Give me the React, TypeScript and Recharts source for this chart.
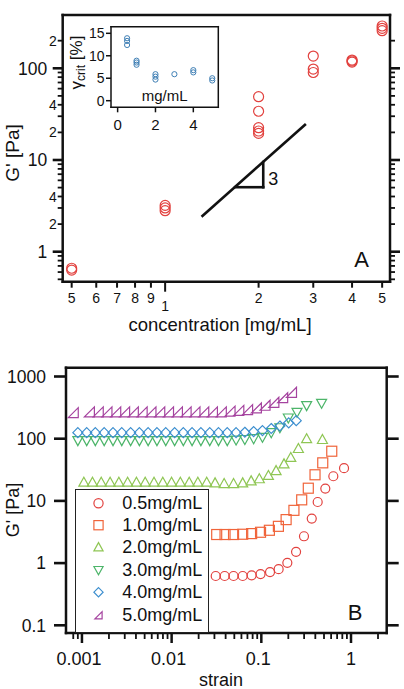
import { ScatterChart, Scatter, XAxis, YAxis, ReferenceLine, Legend } from "recharts";

const FONT = "'Liberation Sans', Arial, Helvetica, sans-serif";
const INK = "#111";

// ---- panel A: G' against concentration ----
const concA = [0.5, 0.5, 1, 1, 1, 2, 2, 2, 2, 2, 3, 3, 3, 4, 4, 4, 5, 5, 5];
const modulusA = [0.66, 0.63, 3.2, 3.0, 2.8, 49, 34, 22.5, 20.7, 19.5, 136, 98, 90, 123, 120, 117, 289, 273, 257];

// inset: critical strain
const concInset = [0.5, 0.5, 0.5, 1, 1, 1, 2, 2, 2, 3, 4, 4, 5, 5];
const gammaCrit = [13.9, 13.3, 12.4, 8.9, 8.5, 8.0, 5.9, 5.35, 4.7, 5.9, 6.8, 6.3, 5.0, 4.5];

// slope 3 guide and triangle (data coords)
const guideConc = [1.31, 2.84];
const guideG = [2.41, 24.7];
const triConc = [1.68, 2.07];
const triG = [5.05, 9.5];

// ---- panel B: strain sweeps ----
const strain05 = [0.031, 0.039, 0.049, 0.062, 0.078, 0.098, 0.125, 0.156, 0.195, 0.244, 0.299, 0.365, 0.425, 0.517, 0.635, 0.836];
const g05 = [0.62, 0.62, 0.62, 0.62, 0.635, 0.667, 0.718, 0.8, 1.01, 1.52, 2.7, 5.2, 9.6, 15.8, 24.9, 33.6];

const strain10 = [0.0318, 0.0394, 0.049, 0.062, 0.078, 0.098, 0.123, 0.155, 0.189, 0.231, 0.282, 0.334, 0.397, 0.484, 0.61];
const g10 = [2.88, 2.88, 2.88, 2.91, 2.98, 3.13, 3.37, 3.9, 5.0, 7.05, 10.4, 16.0, 26.3, 40.9, 62.9];

const strain20 = [0.00105, 0.00131, 0.00164, 0.00206, 0.00258, 0.00323, 0.00405, 0.00507, 0.00636, 0.00797, 0.00998, 0.0125, 0.0157, 0.0196,
  0.0246, 0.0305, 0.0385, 0.049, 0.062, 0.077, 0.095, 0.12, 0.146, 0.179, 0.213, 0.259, 0.32, 0.48];
const g20 = [20, 20, 20, 20, 20, 20, 20, 20, 20, 20, 20, 20, 20, 20,
  20, 19.5, 19, 19, 19.5, 21, 22.7, 25.7, 30.7, 39.4, 50, 69.6, 100, 97];

const strain30 = [0.0009, 0.00113, 0.00141, 0.00177, 0.00222, 0.00278, 0.00349, 0.00437, 0.00547, 0.00686, 0.0086, 0.0108, 0.0135, 0.0169,
  0.0212, 0.0266, 0.0333, 0.0417, 0.0523, 0.0655, 0.0821, 0.103, 0.129, 0.161, 0.2, 0.25, 0.32, 0.47];
const g30 = [93, 93, 93, 93, 93, 93, 93, 93, 93, 93, 93, 93, 93, 93,
  93, 93, 93, 93, 95, 97, 100, 105, 125, 150, 215, 265, 340, 370];

const strain40 = [0.0009, 0.00113, 0.00141, 0.00177, 0.00222, 0.00278, 0.00349, 0.00437, 0.00547, 0.00686, 0.0086, 0.0108, 0.0135, 0.0169,
  0.0212, 0.0266, 0.0333, 0.0417, 0.0523, 0.0655, 0.0821, 0.103, 0.129, 0.161, 0.202, 0.245];
const g40 = [125, 125, 125, 125, 125, 125, 125, 125, 125, 125, 125, 125, 125, 125,
  125, 125, 125, 125, 125, 127, 130, 135, 146, 160, 180, 195];

const strain50 = [0.0008, 0.00121, 0.00152, 0.0019, 0.00238, 0.00299, 0.00374, 0.00469, 0.00588, 0.00737, 0.00923, 0.0116, 0.0145,
  0.0182, 0.0228, 0.0285, 0.0358, 0.0448, 0.0561, 0.0703, 0.0881, 0.11, 0.138, 0.173, 0.217];
const g50 = [262, 270, 270, 270, 270, 270, 270, 270, 270, 270, 270, 270, 270,
  270, 270, 270, 270, 278, 285, 293, 312, 345, 385, 456, 557];

const sweepNames = ["0.5mg/mL", "1.0mg/mL", "2.0mg/mL", "3.0mg/mL", "4.0mg/mL", "5.0mg/mL"];
const sweepColors = ["#e2423f", "#f0643a", "#8fc654", "#4db56a", "#3d8fcf", "#a5439f"];
const sweepKinds = ["circle", "square", "up", "down", "diamond", "wedge"];
const sweepStrains = [strain05, strain10, strain20, strain30, strain40, strain50];
const sweepModuli = [g05, g10, g20, g30, g40, g50];

// ---- ticks ----
const concTicks = [0.5, 0.6, 0.7, 0.8, 0.9, 1, 2, 3, 4, 5];
const concLabels = ["5", "6", "7", "8", "9", "1", "2", "3", "4", "5"];
const modTicks = [0.5, 0.6, 0.7, 0.8, 0.9, 1, 2, 3, 4, 5, 6, 7, 8, 9, 10, 20, 30, 40, 50, 60, 70, 80, 90, 100, 200];
const modMajor = [1, 10, 100];
const modLabelled = [1, 2, 4, 10, 20, 40, 100, 200];
const modLabels = ["1", "2", "4", "10", "2", "4", "100", "2"];
const insetXTicks = [0, 2, 4];
const insetYTicks = [0, 5, 10, 15];
const strainTicks = [0.0008, 0.0009, 0.001, 0.002, 0.003, 0.004, 0.005, 0.006, 0.007, 0.008, 0.009,
  0.01, 0.02, 0.03, 0.04, 0.05, 0.06, 0.07, 0.08, 0.09, 0.1, 0.2, 0.3, 0.4, 0.5, 0.6, 0.7, 0.8, 0.9, 1, 2];
const strainMajor = [0.001, 0.01, 0.1, 1];
const strainLabels = ["0.001", "0.01", "0.1", "1"];
const modTicksB = [0.1, 1, 10, 100, 1000];
const modLabelsB = ["0.1", "1", "10", "100", "1000"];

const pts = (xs: number[], ys: number[]) => xs.map((x, i) => ({ x, y: ys[i] }));
const at = (list: number[], v: number) => list.findIndex((t) => Math.abs(t - v) <= Math.abs(t) * 1e-6 + 1e-9);

type TickLabel = { text: string; size: number; gap: number; dx?: number };
type TickCfg = {
  side: "left" | "right" | "top" | "bottom";
  len: (v: number) => number;
  sw: (v: number) => number;
  label?: (v: number) => TickLabel | null;
};

const makeTick = (cfg: TickCfg) => (p: any) => {
  const v = Number(p.payload?.value);
  const x = Number(p.x);
  const y = Number(p.y);
  const len = cfg.len(v);
  let x2 = x;
  let y2 = y;
  if (cfg.side === "left") x2 = x - len;
  if (cfg.side === "right") x2 = x + len;
  if (cfg.side === "top") y2 = y - len;
  if (cfg.side === "bottom") y2 = y + len;
  const lab = cfg.label ? cfg.label(v) : null;
  return (
    <g>
      <line x1={x} y1={y} x2={x2} y2={y2} stroke={INK} strokeWidth={cfg.sw(v)} />
      {lab && cfg.side === "left" && (
        <text x={x - lab.gap} y={y + lab.size * 0.36} textAnchor="end" fontSize={lab.size} fontFamily={FONT} fill={INK}>
          {lab.text}
        </text>
      )}
      {lab && cfg.side === "bottom" && (
        <text x={x + (lab.dx || 0)} y={y + lab.gap} textAnchor="middle" fontSize={lab.size} fontFamily={FONT} fill={INK}>
          {lab.text}
        </text>
      )}
    </g>
  );
};

function Marker({ kind, cx, cy, color, s, sw = 1.2 }: { kind: string; cx: number; cy: number; color: string; s: number; sw?: number }) {
  const common = { fill: "none", stroke: color, strokeWidth: sw };
  if (kind === "circle") return <circle cx={cx} cy={cy} r={s} {...common} />;
  if (kind === "square") return <rect x={cx - s} y={cy - s} width={2 * s} height={2 * s} {...common} />;
  let d = "";
  if (kind === "up") d = `${cx - s},${cy + s * 0.8} ${cx + s},${cy + s * 0.8} ${cx},${cy - s}`;
  if (kind === "down") d = `${cx - s},${cy - s * 0.8} ${cx + s},${cy - s * 0.8} ${cx},${cy + s}`;
  if (kind === "diamond") d = `${cx},${cy - s} ${cx + s},${cy} ${cx},${cy + s} ${cx - s},${cy}`;
  if (kind === "wedge") d = `${cx - s},${cy + s} ${cx + s},${cy + s} ${cx + s},${cy - s}`;
  return <polygon points={d} {...common} />;
}

const frameA = { stroke: INK, strokeWidth: 2.5, strokeLinecap: "square" as const };
const frameInset = { stroke: INK, strokeWidth: 1.5, strokeLinecap: "square" as const };

const modLenA = (v: number) => (at(modMajor, v) >= 0 ? 10 : 5);
const modSwA = (v: number) => (at(modMajor, v) >= 0 ? 2.6 : 1.8);
const modLabelA = (v: number): TickLabel | null => {
  const i = at(modLabelled, v);
  if (i < 0) return null;
  return at(modMajor, v) >= 0 ? { text: modLabels[i], size: 17.5, gap: 15.5 } : { text: modLabels[i], size: 14, gap: 5.8 };
};
const concLabelA = (v: number): TickLabel | null => {
  const i = at(concTicks, v);
  if (i < 0) return null;
  return { text: concLabels[i], size: 14, gap: v === 1 ? 29 : 21 };
};

const strainLen = (v: number) => (at(strainMajor, v) >= 0 ? 10 : 6);
const strainSw = (v: number) => (at(strainMajor, v) >= 0 ? 2.5 : 1.8);
const strainLabel = (v: number): TickLabel | null => {
  const i = at(strainMajor, v);
  if (i < 0) return null;
  const t = strainLabels[i];
  return { text: t, size: 18, gap: 32, dx: t.includes(".") ? -3 : 0 };
};
const modLabelB = (v: number): TickLabel | null => {
  const i = at(modTicksB, v);
  return i < 0 ? null : { text: modLabelsB[i], size: 17.5, gap: 20 };
};

const SweepLegend = (props: any) => (
  <div
    style={{
      border: "1.5px solid #222",
      background: "#fff",
      boxSizing: "border-box",
      width: 134,
      height: 144,
      paddingTop: 1.6,
      fontFamily: FONT,
    }}
  >
    {(props.payload || []).map((e: any) => {
      const i = sweepNames.indexOf(e.value);
      return (
        <div key={e.value} style={{ display: "flex", alignItems: "center", height: 22.4 }}>
          <svg width={45} height={22.4} style={{ display: "block" }}>
            <Marker kind={sweepKinds[i]} cx={22.5} cy={11.2} color={sweepColors[i]} s={i === 5 ? 3.6 : 4.6} />
          </svg>
          <span style={{ marginLeft: 1.5, fontSize: 18, lineHeight: "22.4px", color: INK }}>{e.value}</span>
        </div>
      );
    })}
  </div>
);

// axes need a non-zero band to be drawn, so each takes 1px out of the margin
export default function App() {
  return (
    <div style={{ position: "relative", width: 404, height: 689, background: "#fff", fontFamily: FONT }}>
      <style>{"body{margin:0}"}</style>

      {/* panel A */}
      <div style={{ position: "absolute", left: 0, top: 0 }}>
        <ScatterChart width={404} height={340} margin={{ top: 14, right: 13, bottom: 57.3, left: 61.7 }}>
          <XAxis type="number" dataKey="x" scale="log" domain={[0.4678, 5.3]} allowDataOverflow ticks={concTicks} interval={0}
            height={1} tickSize={0} tickMargin={0} tickLine={false} axisLine={frameA}
            tick={makeTick({ side: "bottom", len: (v) => (v === 1 ? 10 : 6), sw: () => 2, label: concLabelA })} />
          <XAxis xAxisId="top" orientation="top" type="number" scale="log" domain={[0.4678, 5.3]} allowDataOverflow ticks={concTicks} interval={0}
            height={1} tickSize={0} tickMargin={0} tickLine={false} axisLine={frameA}
            tick={makeTick({ side: "top", len: (v) => (v === 1 ? 15 : 6), sw: (v) => (v === 1 ? 2.5 : 2) })} />
          <YAxis type="number" dataKey="y" scale="log" domain={[0.471, 381]} allowDataOverflow ticks={modTicks} interval={0}
            width={1} tickSize={0} tickMargin={0} tickLine={false} axisLine={frameA}
            tick={makeTick({ side: "left", len: modLenA, sw: modSwA, label: modLabelA })} />
          <YAxis yAxisId="right" orientation="right" type="number" scale="log" domain={[0.471, 381]} allowDataOverflow ticks={modTicks} interval={0}
            width={1} tickSize={0} tickMargin={0} tickLine={false} axisLine={frameA}
            tick={makeTick({ side: "right", len: modLenA, sw: modSwA })} />
          <ReferenceLine segment={[{ x: guideConc[0], y: guideG[0] }, { x: guideConc[1], y: guideG[1] }]} stroke={INK} strokeWidth={2.6} />
          <ReferenceLine segment={[{ x: triConc[0], y: triG[0] }, { x: triConc[1], y: triG[0] }]} stroke={INK} strokeWidth={2.6} strokeLinecap="square" />
          <ReferenceLine segment={[{ x: triConc[1], y: triG[0] }, { x: triConc[1], y: triG[1] }]} stroke={INK} strokeWidth={2.6} strokeLinecap="square" />
          <Scatter data={pts(concA, modulusA)} isAnimationActive={false}
            shape={(p: any) => <Marker kind="circle" cx={p.cx} cy={p.cy} color="#e2423f" s={5} sw={1.2} />} />
        </ScatterChart>
      </div>

      {/* inset */}
      <div style={{ position: "absolute", left: 75, top: 20 }}>
        <ScatterChart width={150} height={115} margin={{ top: 5.7, right: 5.7, bottom: 26.7, left: 35 }}>
          <XAxis type="number" dataKey="x" domain={[-0.35, 5.32]} allowDataOverflow ticks={insetXTicks} interval={0}
            height={1} tickSize={0} tickMargin={0} tickLine={false} axisLine={frameInset}
            tick={makeTick({ side: "bottom", len: () => 5, sw: () => 1.5, label: (v) => ({ text: String(v), size: 15, gap: 22.7 }) })} />
          <XAxis xAxisId="top" orientation="top" type="number" domain={[-0.35, 5.32]} height={1} tick={false} tickLine={false} axisLine={frameInset} />
          <YAxis type="number" dataKey="y" domain={[-1.47, 16.47]} allowDataOverflow ticks={insetYTicks} interval={0}
            width={1} tickSize={0} tickMargin={0} tickLine={false} axisLine={frameInset}
            tick={makeTick({ side: "left", len: () => 5, sw: () => 1.5, label: (v) => ({ text: String(v), size: 14, gap: 6.5 }) })} />
          <YAxis yAxisId="right" orientation="right" type="number" domain={[-1.47, 16.47]} width={1} tick={false} tickLine={false} axisLine={frameInset} />
          <Scatter data={pts(concInset, gammaCrit)} isAnimationActive={false}
            shape={(p: any) => <Marker kind="circle" cx={p.cx} cy={p.cy} color="#3f7fb5" s={2.6} sw={1} />} />
        </ScatterChart>
      </div>

      {/* panel B */}
      <div style={{ position: "absolute", left: 0, top: 340 }}>
        <ScatterChart width={404} height={349} margin={{ top: 26.7, right: 16.3, bottom: 55, left: 65 }}>
          <XAxis type="number" dataKey="x" scale="log" domain={[0.000664, 2.5]} allowDataOverflow ticks={strainTicks} interval={0}
            height={1} tickSize={0} tickMargin={0} tickLine={false} axisLine={frameA}
            tick={makeTick({ side: "bottom", len: strainLen, sw: strainSw, label: strainLabel })} />
          <XAxis xAxisId="top" orientation="top" type="number" scale="log" domain={[0.000664, 2.5]} allowDataOverflow ticks={strainTicks} interval={0}
            height={1} tickSize={0} tickMargin={0} tickLine={false} axisLine={frameA}
            tick={makeTick({ side: "top", len: strainLen, sw: strainSw })} />
          <YAxis type="number" dataKey="y" scale="log" domain={[0.0752, 1385]} allowDataOverflow ticks={modTicksB} interval={0}
            width={1} tickSize={0} tickMargin={0} tickLine={false} axisLine={frameA}
            tick={makeTick({ side: "left", len: () => 12, sw: () => 2.6, label: modLabelB })} />
          <YAxis yAxisId="right" orientation="right" type="number" scale="log" domain={[0.0752, 1385]} allowDataOverflow ticks={modTicksB} interval={0}
            width={1} tickSize={0} tickMargin={0} tickLine={false} axisLine={frameA}
            tick={makeTick({ side: "right", len: () => 12, sw: () => 2.6 })} />
          {sweepNames.map((name, i) => (
            <Scatter key={name} name={name} data={pts(sweepStrains[i], sweepModuli[i])} fill={sweepColors[i]} isAnimationActive={false}
              shape={(p: any) => <Marker kind={sweepKinds[i]} cx={p.cx} cy={p.cy} color={sweepColors[i]} s={i === 0 ? 4.5 : 5} />} />
          ))}
          <Legend layout="vertical" align="center" verticalAlign="middle" content={SweepLegend}
            wrapperStyle={{ left: 74.7, top: 149, width: 134, height: 144 }} />
        </ScatterChart>
      </div>

      {/* titles and annotations */}
      <svg width={404} height={689} style={{ position: "absolute", left: 0, top: 0, pointerEvents: "none" }} fontFamily={FONT} fill={INK}>
        <text transform="translate(18.5,153) rotate(-90)" textAnchor="middle" fontSize={19}>G' [Pa]</text>
        <text x={220} y={330.5} textAnchor="middle" fontSize={18.5}>concentration [mg/mL]</text>
        <text x={361.7} y={266.7} textAnchor="middle" fontSize={22}>A</text>
        <text x={273.3} y={184.7} textAnchor="middle" fontSize={18}>3</text>
        <text transform="translate(82,62.5) rotate(-90)" textAnchor="middle" fontSize={17}>
          γ<tspan fontSize={12} dy={3}>crit</tspan>
          <tspan dy={-3}> [%]</tspan>
        </text>
        <text x={164.7} y={100.5} textAnchor="middle" fontSize={15}>mg/mL</text>
        <text transform="translate(19,510) rotate(-90)" textAnchor="middle" fontSize={18}>G' [Pa]</text>
        <text x={221} y={685.5} textAnchor="middle" fontSize={18}>strain</text>
        <text x={355} y={620} textAnchor="middle" fontSize={22}>B</text>
      </svg>
    </div>
  );
}
